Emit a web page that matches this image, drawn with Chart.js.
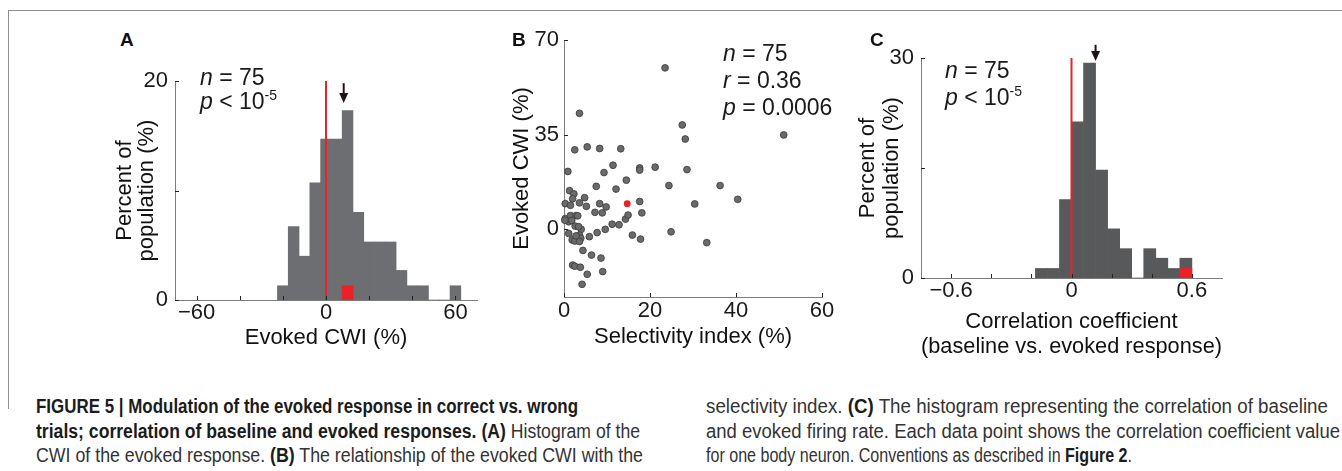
<!DOCTYPE html>
<html>
<head>
<meta charset="UTF-8">
<title>Figure 5</title>
<script src="https://cdn.jsdelivr.net/npm/chart.js"></script>
<style>
    body { margin: 0; background: #fff; font-family: 'Liberation Sans', Arial, sans-serif; }
    #fig { position: relative; width: 1342px; height: 471px; overflow: hidden; background: #fff; }
    .frame { position: absolute; left: 8px; top: 10px; width: 1400px; height: 398px;
             border-top: 1px solid #8e8e8e; border-left: 1px solid #8e8e8e; }
    .box { position: absolute; }
    .panel { position: absolute; font-weight: bold; font-size: 19px; line-height: 22px; color: #111; }
    .stat { position: absolute; font-size: 23px; color: #1a1a1a; white-space: nowrap; }
    .stat sup { font-size: 14px; vertical-align: 9px; line-height: 0; }
    .cap { position: absolute; font-family: 'Liberation Sans', Arial, sans-serif;
           font-size: 20px; line-height: 24px; color: #333; white-space: nowrap; transform-origin: 0 50%; }
    .cap b { color: #1c1c1c; }
</style>
</head>
<body>
<div id="fig">
    <div class="frame"></div>

    <div class="box" style="left:80px; top:60px;"><canvas id="chartA" width="420" height="310"></canvas></div>
    <div class="box" style="left:500px; top:20px;"><canvas id="chartB" width="340" height="350"></canvas></div>
    <div class="box" style="left:840px; top:20px;"><canvas id="chartC" width="400" height="350"></canvas></div>

    <div class="panel" style="left:120px; top:29px;">A</div>
    <div class="panel" style="left:512px; top:29px;">B</div>
    <div class="panel" style="left:870px; top:29px;">C</div>

    <div class="stat" style="left:200px; top:65px; line-height:24px;"><i>n</i> = 75<br><i>p</i> &lt; 10<sup>-5</sup></div>
    <div class="stat" style="left:723px; top:40px; line-height:27px;"><i>n</i> = 75<br><i>r</i> = 0.36<br><i>p</i> = 0.0006</div>
    <div class="stat" style="left:945px; top:57px; line-height:27px;"><i>n</i> = 75<br><i>p</i> &lt; 10<sup>-5</sup></div>

    <div class="cap" style="left:36px; top:394px;" data-w="542"><b>FIGURE 5 | Modulation of the evoked response in correct vs. wrong</b></div>
    <div class="cap" style="left:36px; top:419px;" data-w="604"><b>trials; correlation of baseline and evoked responses. (A)</b> Histogram of the</div>
    <div class="cap" style="left:36px; top:443px;" data-w="607">CWI of the evoked response. <b>(B)</b> The relationship of the evoked CWI with the</div>
    <div class="cap" style="left:706px; top:394px;" data-w="622">selectivity index. <b>(C)</b> The histogram representing the correlation of baseline</div>
    <div class="cap" style="left:706px; top:419px;" data-w="634">and evoked firing rate. Each data point shows the correlation coefficient value</div>
    <div class="cap" style="left:706px; top:443px;" data-w="426">for one body neuron. Conventions as described in <b>Figure 2</b>.</div>
</div>

<script>
    // A: evoked CWI histogram (percent of population per 5% bin)
    const evokedBins = [-20, -15, -10, -5, 0, 5, 10, 15, 20, 25, 30, 35, 40, 45, 50, 55, 60];
    const evokedPct = [1.3, 6.7, 4.0, 10.7, 14.7, 14.7, 17.3, 8.0, 5.3, 5.3, 5.3, 2.7, 1.3, 1.3, 0, 0, 1.3];
    const evokedExampleBin = [10];
    const evokedExamplePct = [1.3];
    const evokedMean = 8.2;
    const evokedTicks = [-60, -40, -20, 0, 20, 40, 60];
    const evokedTickLabels = [-60, 0, 60];
    const pctTicksA = [0, 10, 20];

    // B: selectivity index vs evoked CWI
    const selIdx = [23.5, 3.6, 27.5, 28.2, 51.1, 2.5, 5.4, 8.3, 13.2, 0.9,
                    11.4, 9.3, 17.6, 17.6, 21.2, 28.6, 14.5, 7.5, 12.1, 24.4,
                    36.3, 1.3, 2.3, 4.8, 2.0, 3.6, 0.3, 1.5, 5.2, 8.3,
                    9.8, 7.2, 8.9, 17.6, 18.1, 30.4, 40.4, 0.3, 1.1, 1.5,
                    2.8, 3.2, 2.6, 4.0, 1.1, 1.9, 2.5, 3.6, 3.9, 3.6,
                    5.9, 7.7, 9.6, 11.2, 12.8, 14.3, 14.9, 15.9, 17.8, 24.9,
                    33.2, 4.4, 6.4, 8.6, 2.0, 2.5, 3.8, 5.4, 9.0, 4.2,
                    0.2, 1.8, 3.4, 2.8];
    const selCwi = [59.7, 42.9, 38.6, 33.4, 34.9, 29.4, 30.5, 29.9, 29.8, 21.4,
                    23.7, 21.0, 22.7, 21.9, 23.0, 22.1, 18.2, 15.9, 14.9, 16.2,
                    16.2, 14.3, 13.1, 11.7, 11.3, 9.8, 9.5, 8.9, 8.5, 9.5,
                    8.3, 6.3, 6.1, 10.3, 6.1, 9.4, 11.1, 4.0, 2.8, 5.1,
                    5.1, 5.0, 1.2, 0.0, -1.5, -3.9, -4.3, -2.1, -3.3, -4.5,
                    -2.7, -1.2, 0.0, 1.9, 1.7, 3.8, 5.3, -2.1, -3.6, -0.9,
                    -4.9, -7.8, -9.5, -10.6, -13.2, -13.6, -14.0, -16.6, -15.6, -20.3,
                    3.4, 3.3, 1.0, -2.4];
    const exampleSel = [14.7];
    const exampleCwi = [9.5];
    const selTicks = [0, 20, 40, 60];
    const cwiTicks = [0, 35, 70];

    // C: baseline vs evoked correlation histogram (0.06 bins)
    const corrBins = [-0.15, -0.09, -0.03, 0.03, 0.09, 0.15, 0.21, 0.27, 0.33, 0.39, 0.45, 0.51, 0.57];
    const corrPct = [1.3, 1.3, 10.7, 21.3, 29.3, 14.7, 6.7, 4.0, 0, 4.0, 2.7, 1.3, 2.7];
    const corrExampleBin = [0.57];
    const corrExamplePct = [1.3];
    const corrMean = 0.12;
    const corrTicks = [-0.6, -0.4, -0.2, 0, 0.2, 0.4, 0.6];
    const corrTickLabels = [-0.6, 0, 0.6];
    const pctTicksC = [0, 15, 30];

    const RED = '#ec2027';
    Chart.defaults.font.family = "'Liberation Sans', Arial, sans-serif";
    Chart.defaults.color = '#1a1a1a';

    function fmt(v) { return String(v).replace('-', '\u2212'); }

    function axis(opt) {
        return {
            type: 'linear', min: opt.min, max: opt.max, offset: false,
            grid: { display: false, drawTicks: false, offset: false },
            border: { display: true, color: '#7d7d7d', width: 1 },
            afterBuildTicks: s => { s.ticks = opt.ticks.map(v => ({ value: v })); },
            ticks: {
                autoSkip: false, maxRotation: 0,
                padding: opt.pad, font: { size: 22, lineHeight: 1 },
                callback: v => opt.labels.some(l => Math.abs(l - v) < 1e-9) ? fmt(v) : ''
            },
            title: { display: true, text: opt.title, color: '#111',
                     font: { size: 22, lineHeight: opt.lh + 'px' }, padding: opt.titlePad },
            afterFit: s => { if (opt.w) s.width = opt.w; if (opt.h) s.height = opt.h; }
        };
    }

    // inward Matlab-style ticks and the mean arrow
    const inTicks = {
        id: 'inTicks',
        afterDraw(chart, args, o) {
            const { ctx, chartArea: a, scales: { x, y } } = chart;
            ctx.save();
            ctx.strokeStyle = '#222';
            ctx.lineWidth = 1;
            ctx.beginPath();
            x.ticks.forEach((t, i) => {
                const px = Math.round(x.getPixelForTick(i)) + 0.5;
                ctx.moveTo(px, a.bottom); ctx.lineTo(px, a.bottom - 4);
            });
            y.ticks.forEach((t, i) => {
                const py = Math.round(y.getPixelForTick(i)) + 0.5;
                ctx.moveTo(a.left, py); ctx.lineTo(a.left + 4, py);
            });
            ctx.stroke();
            if (o.arrow) {
                const ax = x.getPixelForValue(o.arrow.x);
                const y0 = y.getPixelForValue(o.arrow.from);
                const y1 = y.getPixelForValue(o.arrow.to);
                ctx.strokeStyle = ctx.fillStyle = '#1e1414';
                ctx.lineWidth = 2;
                ctx.beginPath(); ctx.moveTo(ax, y0); ctx.lineTo(ax, y1 - 8); ctx.stroke();
                ctx.beginPath();
                ctx.moveTo(ax - 4.5, y1 - 10); ctx.lineTo(ax + 4.5, y1 - 10); ctx.lineTo(ax, y1);
                ctx.closePath(); ctx.fill();
            }
            ctx.restore();
        }
    };

    const base = {
        responsive: false, animation: false, events: [],
        plugins: { legend: { display: false }, tooltip: { enabled: false } }
    };

    function histogram(id, bins, pct, exBin, exPct, color, yMax, cfg) {
        return new Chart(document.getElementById(id), {
            type: 'bar',
            data: {
                datasets: [
                    { type: 'line', data: [{ x: 0, y: 0 }, { x: 0, y: yMax }], borderColor: RED,
                      borderWidth: 2, pointRadius: 0, order: 0, clip: false },
                    { data: exBin.map((b, i) => ({ x: b, y: exPct[i] })), backgroundColor: RED,
                      borderWidth: 0, grouped: false, barPercentage: 1, categoryPercentage: 1, order: 1 },
                    { data: bins.map((b, i) => ({ x: b, y: pct[i] })), backgroundColor: color,
                      borderWidth: 0, grouped: false, barPercentage: 1, categoryPercentage: 1, order: 2 }
                ]
            },
            options: Object.assign({}, base, {
                layout: { padding: cfg.padding },
                plugins: Object.assign({}, base.plugins, { inTicks: { arrow: cfg.arrow } }),
                scales: { x: axis(cfg.x), y: axis(cfg.y) }
            }),
            plugins: [inTicks]
        });
    }

    histogram('chartA', evokedBins, evokedPct, evokedExampleBin, evokedExamplePct, '#6d6e71', 20, {
        padding: { top: 21, right: 23, left: 0, bottom: 0 },
        arrow: { x: evokedMean, from: 19.8, to: 18.0 },
        x: { min: -70, max: 70, ticks: evokedTicks, labels: evokedTickLabels, pad: 2, h: 70,
             title: 'Evoked CWI (%)', lh: 22, titlePad: { top: 0, bottom: 21 } },
        y: { min: 0, max: 20, ticks: pctTicksA, labels: [0, 20], pad: 7, w: 95,
             title: ['Percent of', 'population (%)'], lh: 22, titlePad: { top: 34, bottom: 0 } }
    });

    new Chart(document.getElementById('chartB'), {
        type: 'scatter',
        data: {
            datasets: [
                { data: exampleSel.map((v, i) => ({ x: v, y: exampleCwi[i] })), backgroundColor: RED,
                  borderWidth: 0, pointRadius: 3.4, order: 0, clip: false },
                { data: selIdx.map((v, i) => ({ x: v, y: selCwi[i] })), backgroundColor: '#6a6a6a',
                  borderColor: '#3a3a3a', borderWidth: 0.8, pointRadius: 3.4, order: 1, clip: false }
            ]
        },
        options: Object.assign({}, base, {
            layout: { padding: { top: 20, right: 18, left: 0, bottom: 0 } },
            scales: {
                x: axis({ min: 0, max: 60, ticks: selTicks, labels: selTicks, pad: 3, h: 73,
                          title: 'Selectivity index (%)', lh: 22, titlePad: { top: 0, bottom: 22 } }),
                y: axis({ min: -25, max: 70, ticks: cwiTicks, labels: cwiTicks, pad: 5, w: 64,
                          title: 'Evoked CWI (%)', lh: 22, titlePad: { top: 11, bottom: 0 } })
            }
        }),
        plugins: [inTicks]
    });

    histogram('chartC', corrBins, corrPct, corrExampleBin, corrExamplePct, '#58595b', 30, {
        padding: { top: 38, right: 18, left: 0, bottom: 0 },
        arrow: { x: corrMean, from: 31.8, to: 29.6 },
        x: { min: -0.75, max: 0.75, ticks: corrTicks, labels: corrTickLabels, pad: 2, h: 92,
             title: ['Correlation coefficient', '(baseline vs. evoked response)'], lh: 25,
             titlePad: { top: 0, bottom: 11 } },
        y: { min: 0, max: 30, ticks: pctTicksC, labels: [0, 30], pad: 7, w: 81,
             title: ['Percent of', 'population (%)'], lh: 24, titlePad: { top: 16, bottom: 0 } }
    });

    // squeeze each caption line to the width it has in the printed figure
    document.querySelectorAll('.cap').forEach(el => {
        const w = el.getBoundingClientRect().width;
        el.style.transform = 'scaleX(' + (el.dataset.w / w).toFixed(4) + ')';
    });
</script>
</body>
</html>
